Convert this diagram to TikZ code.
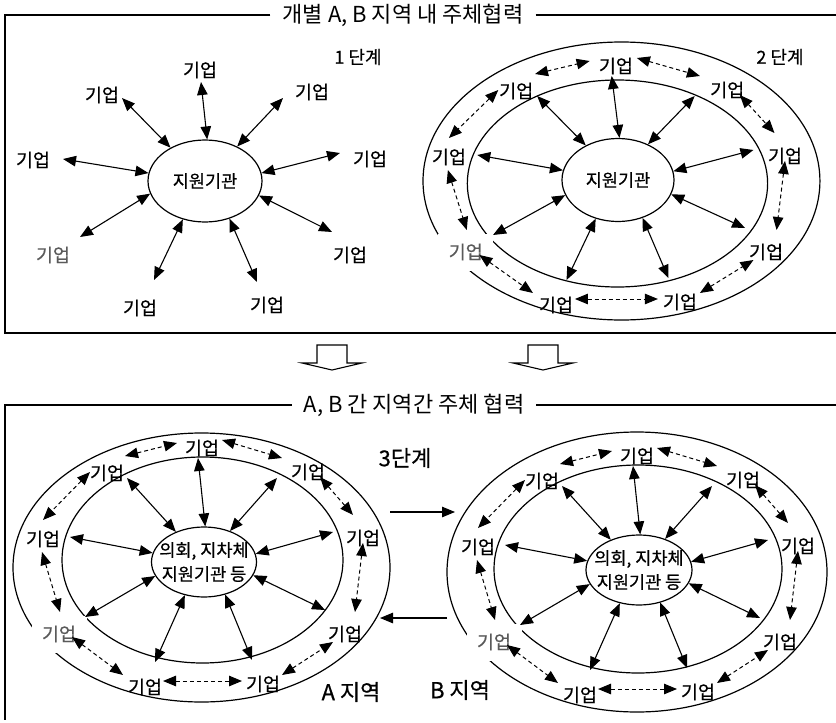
\documentclass[tikz,border=0pt]{standalone}
\usepackage{fontspec}
\setmainfont{Noto Sans CJK KR}
\newfontfamily\labfont[FakeBold=0.6]{Noto Sans CJK KR}
\usetikzlibrary{arrows.meta,shapes.geometric}
\definecolor{labgray}{RGB}{90,90,90}
\tikzset{
  lab/.style={font=\labfont\fontsize{18.5}{20}\selectfont, inner sep=1pt},
  glab/.style={lab, text=labgray, fill=white, minimum width=55, minimum height=37},
  cell/.style={draw, ellipse, line width=1.2pt, inner sep=0pt},
  ctext/.style={font=\labfont\fontsize{17.5}{24}\selectfont, align=center, inner sep=0pt},
  ring/.style={line width=1.2pt},
  sarrow/.style={<->, line width=1.1pt},
  darrow/.style={<->, line width=1pt, dash pattern=on 4pt off 3pt},
  harrow/.style={->, line width=1.1pt},
  frame/.style={line width=1.8pt, line join=miter},
  ttl/.style={font=\fontsize{22}{24}\selectfont, inner xsep=12pt, inner ysep=0pt},
  big/.style={font=\labfont\fontsize{22}{24}\selectfont, inner sep=0pt},
  stg/.style={font=\labfont\fontsize{18}{20}\selectfont, inner sep=0pt},
  hollow/.style={line width=1.1pt, line join=miter},
}
\newcommand{\ringpanel}[6]{%
\begin{scope}[#2]
  \draw[ring] #5;
  \draw[ring] #6;
  \node[cell,#4] (#1c) at (0,0) {};
  \node[ctext] (#1ct) at (#1c) {#3};
  \node[glab] (#1ll) at (-145,72) {기업};
  \node[lab] (#1t)  at (-2,-114) {기업};
  \node[lab] (#1ul) at (-97,-89) {기업};
  \node[lab] (#1ur) at (104,-90) {기업};
  \node[lab] (#1l)  at (-161,-23) {기업};
  \node[lab] (#1r)  at (159,-24) {기업};
  \node[lab] (#1lr) at (141,72) {기업};
  \node[lab] (#1bl) at (-59,125) {기업};
  \node[lab] (#1br) at (59,122) {기업};
  % solid connectors to the centre
  \coordinate (#1st)  at (-6,-104);
  \coordinate (#1sul) at (-77,-84);
  \coordinate (#1sur) at (73,-84);
  \coordinate (#1sl)  at (-134,-25);
  \coordinate (#1sr)  at (129,-30);
  \coordinate (#1sll) at (-119,55);
  \coordinate (#1sbl) at (-49,100);
  \coordinate (#1sbr) at (48,98);
  \coordinate (#1slr) at (121,48);
  \draw[sarrow] (#1st)  -- (#1c.88);
  \draw[sarrow] (#1sul) -- (#1c.133);
  \draw[sarrow] (#1sur) -- (#1c.50);
  \draw[sarrow] (#1sl)  -- (#1c.170);
  \draw[sarrow] (#1sr)  -- (#1c.9);
  \draw[sarrow] (#1sll) -- (#1c.196);
  \draw[sarrow] (#1sbl) -- (#1c.240);
  \draw[sarrow] (#1sbr) -- (#1c.303);
  \draw[sarrow] (#1slr) -- (#1c.345);
  % dashed connectors around the ring
  \coordinate (#1d1a) at (-79,-106); \coordinate (#1d1b) at (-27,-119);
  \coordinate (#1d2a) at (18,-122);  \coordinate (#1d2b) at (78,-104);
  \coordinate (#1d3a) at (-114,-90); \coordinate (#1d3b) at (-161,-42);
  \coordinate (#1d4a) at (-162,-10); \coordinate (#1d4b) at (-144,50);
  \coordinate (#1d5a) at (-132,75);  \coordinate (#1d5b) at (-81,113);
  \coordinate (#1d6a) at (-41,119);  \coordinate (#1d6b) at (38,119);
  \coordinate (#1d7a) at (78,113);   \coordinate (#1d7b) at (129,80);
  \coordinate (#1d8a) at (159,-19);  \coordinate (#1d8b) at (151,50);
  \coordinate (#1d9a) at (116,-85);  \coordinate (#1d9b) at (149,-47);
  \draw[darrow] (#1d1a) -- (#1d1b);
  \draw[darrow] (#1d2a) -- (#1d2b);
  \draw[darrow] (#1d3a) -- (#1d3b);
  \draw[darrow] (#1d4a) -- (#1d4b);
  \draw[darrow] (#1d5a) -- (#1d5b);
  \draw[darrow] (#1d6a) -- (#1d6b);
  \draw[darrow] (#1d7a) -- (#1d7b);
  \draw[darrow] (#1d8a) -- (#1d8b);
  \draw[darrow] (#1d9a) -- (#1d9b);
\end{scope}}
\begin{document}
\begin{tikzpicture}[x=1pt,y=-1pt,>={Triangle[length=13pt,width=10.5pt]}]
\useasboundingbox (0,0) rectangle (836,723);

% frames and titles
\node[ttl] (t1) at (403,15) {개별 A, B 지역 내 주체협력};
\draw[frame] (t1.west) -- (5,15) -- (5,333) -- (840,333);
\draw[frame] (t1.east) -- (840,15);
\node[ttl] (t2) at (414,405) {A, B 간 지역간 주체 협력};
\draw[frame] (t2.west) -- (5,405) -- (5,720);
\draw[frame] (t2.east) -- (840,405);

% hollow down arrows
\draw[hollow] (317,345) -- (347,345) -- (347,363) -- (362,363) -- (332,370) -- (302,363) -- (317,363) -- cycle;
\draw[hollow] (528,345) -- (558,345) -- (558,363) -- (573,363) -- (543,370) -- (513,363) -- (528,363) -- cycle;

% stage texts
\node[stg] (s1) at (358,57) {1 단계};
\node[stg] (s2) at (780,57) {2 단계};
\node[big] (s3) at (405,458) {3단계};
\node[big] (ra) at (351,692) {A 지역};
\node[big] (rb) at (460,690) {B 지역};

% ---------- panel 1 ----------
\node[cell, minimum width=114, minimum height=82] (p1c) at (205,181) {};
\node[ctext] (p1ct) at (p1c) {지원기관};
\node[lab] (p1t)  at (200,70) {기업};
\node[lab] (p1ul) at (102,95) {기업};
\node[lab] (p1ur) at (312,92) {기업};
\node[lab] (p1l)  at (33,160) {기업};
\node[lab] (p1r)  at (370,159) {기업};
\node[lab, text=labgray] (p1ll) at (53,255) {기업};
\node[lab] (p1bl) at (140,308) {기업};
\node[lab] (p1br) at (267,305) {기업};
\node[lab] (p1lr) at (350,255) {기업};
\coordinate (p1st)  at (201,82);
\coordinate (p1sul) at (122,98);
\coordinate (p1sur) at (283,98);
\coordinate (p1sl)  at (63,159);
\coordinate (p1sr)  at (340,153);
\coordinate (p1sll) at (80,237);
\coordinate (p1sbl) at (154,280);
\coordinate (p1sbr) at (257,282);
\coordinate (p1slr) at (332,232);
\draw[sarrow] (p1st)  -- (p1c.87);
\draw[sarrow] (p1sul) -- (p1c.136);
\draw[sarrow] (p1sur) -- (p1c.47);
\draw[sarrow] (p1sl)  -- (p1c.172);
\draw[sarrow] (p1sr)  -- (p1c.8);
\draw[sarrow] (p1sll) -- (p1c.193);
\draw[sarrow] (p1sbl) -- (p1c.240);
\draw[sarrow] (p1sbr) -- (p1c.303);
\draw[sarrow] (p1slr) -- (p1c.345);

% ---------- panels 2, 3, 4 ----------
\ringpanel{p2}{shift={(618,180)},xscale=1.05}{지원기관}{minimum width=112,minimum height=83}{(3.3,1) ellipse [x radius=189,y radius=139]}{(-0.5,3.5) ellipse [x radius=143,y radius=103.5]}
\ringpanel{p3}{shift={(204,562)}}{의회, 지차체\\지원기관 등}{minimum width=105,minimum height=70}{(-2.5,5.5) ellipse [x radius=188.5,y radius=134.5]}{(-1.5,-2) ellipse [x radius=140.5,y radius=103]}
\ringpanel{p4}{shift={(639,570)}}{의회, 지차체\\지원기관 등}{minimum width=106,minimum height=70}{(-2,2) ellipse [x radius=190,y radius=140]}{(-1,-1) ellipse [x radius=144,y radius=104]}

% arrows between the two regions
\coordinate (hA) at (390,512); \coordinate (hB) at (455,512);
\coordinate (hC) at (447,618); \coordinate (hD) at (380,618);
\draw[harrow] (hA) -- (hB);
\draw[harrow] (hC) -- (hD);
\end{tikzpicture}
\end{document}
